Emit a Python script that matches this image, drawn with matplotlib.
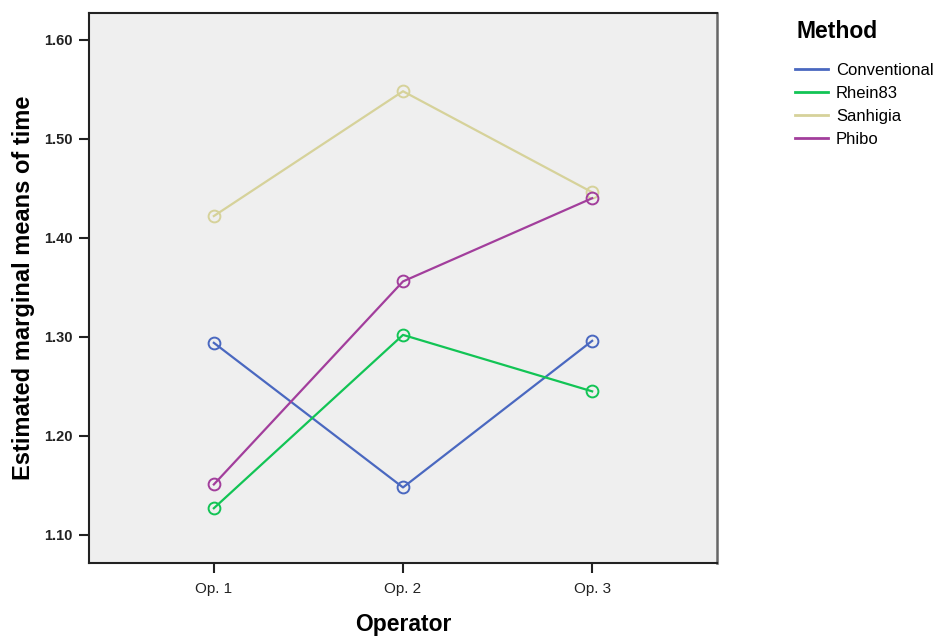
import matplotlib
matplotlib.use("Agg")
import matplotlib.pyplot as plt
from matplotlib.lines import Line2D

plt.rcParams['font.family'] = ['Liberation Sans', 'DejaVu Sans']

operators = ["Op. 1", "Op. 2", "Op. 3"]
methods = ["Conventional", "Rhein83", "Sanhigia", "Phibo"]
conventional = [1.294, 1.148, 1.296]
rhein83 = [1.127, 1.302, 1.245]
sanhigia = [1.422, 1.548, 1.446]
phibo = [1.151, 1.356, 1.440]
y_ticks = [1.10, 1.20, 1.30, 1.40, 1.50, 1.60]

series = [conventional, rhein83, sanhigia, phibo]
colors = ["#4a68c0", "#12c455", "#d6d29a", "#a23e9c"]

fig = plt.figure(figsize=(9.4, 6.37), dpi=100)
ax = fig.add_axes([89/940, 1 - 563/637, (717-89)/940, (563-13)/637])
ax.set_facecolor("#efefef")

x = list(range(1, len(operators) + 1))
for vals, c in zip(series, colors):
    ax.plot(x, vals, color=c, lw=1.6, marker='o', ms=8.5,
            mfc='none', mec=c, mew=1.4, zorder=3)

ax.set_xlim(0.34, 3.66)
ax.set_ylim(1.0717, 1.627)
ax.set_xticks(x)
ax.set_xticklabels(operators, fontsize=11, color="#222222")
ax.set_yticks(y_ticks)
ax.set_yticklabels([f"{v:.2f}" for v in y_ticks], fontsize=10.5, fontweight='bold',
                   color="#222222")
ax.tick_params(axis='both', direction='out', length=7, width=1.5, color="#222222")
ax.tick_params(axis='x', pad=7)
ax.tick_params(axis='y', pad=5)
for s in ['left', 'bottom', 'top']:
    ax.spines[s].set_linewidth(1.5)
    ax.spines[s].set_color("#222222")
ax.spines['right'].set_linewidth(1.8)
ax.spines['right'].set_color("#666666")

ax.set_xlabel("Operator", fontsize=16.5, fontweight='bold', labelpad=12)
ax.set_ylabel("Estimated marginal means of time", fontsize=17, fontweight='bold', labelpad=6)

fig.text(797/940, 1 - 31/637, "Method", fontsize=16.5, fontweight='bold',
         ha='left', va='center')
handles = [Line2D([0], [0], color=c, lw=2) for c in colors]
fig.legend(handles, methods, loc='upper left', bbox_to_anchor=(780/940, 1 - 48/637),
           frameon=False, fontsize=12, handlelength=2.0, handletextpad=0.45,
           labelspacing=0.47)

fig.savefig("out.png", dpi=100)
